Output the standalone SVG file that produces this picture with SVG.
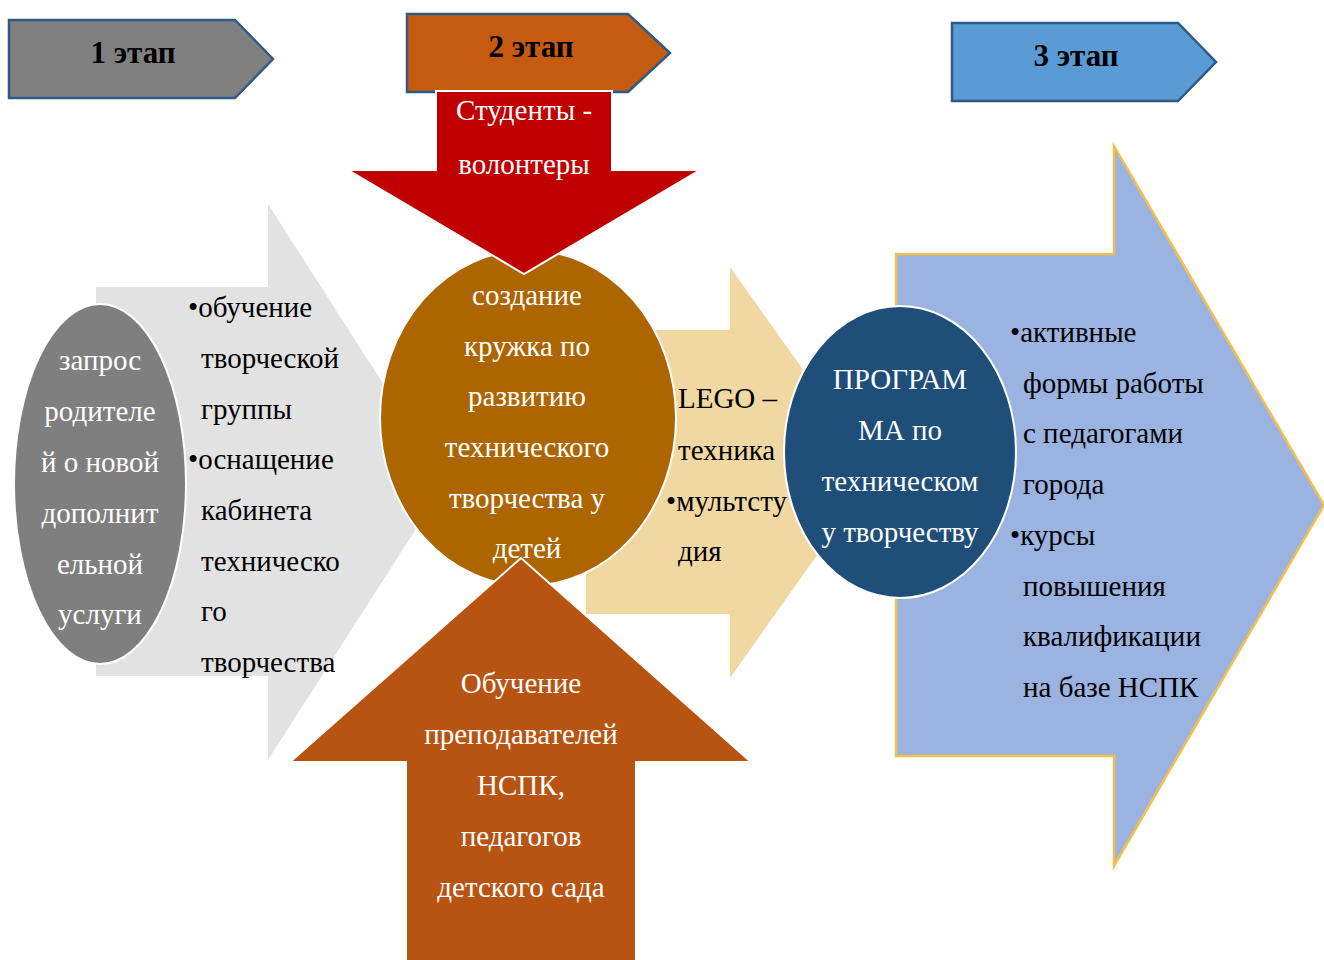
<svg xmlns="http://www.w3.org/2000/svg" width="1324" height="960" viewBox="0 0 1324 960">
<style>
text{font-family:"Liberation Serif","Times New Roman",serif;font-size:29px}
.w{fill:#fff}
.b{fill:#000}
.c{text-anchor:middle}
.hd{font-weight:bold;font-size:31px;text-anchor:middle;fill:#000}
.stage{stroke:#2E5A84;stroke-width:2.5}
</style>
<rect width="1324" height="960" fill="#fff"/>
<g id="stage1">
<polygon class="stage" points="9,20 235,20 273,59 235,98 9,98" fill="#808080"/>
<text class="hd" x="133" y="63">1 этап</text>
</g>
<g id="stage2">
<polygon class="stage" points="407,14 628,14 670,53 628,92 407,92" fill="#C55A11"/>
<text class="hd" x="531" y="57">2 этап</text>
</g>
<g id="stage3">
<polygon class="stage" points="952,23 1178,23 1216,62 1178,101 952,101" fill="#5B9BD5"/>
<text class="hd" x="1076" y="66">3 этап</text>
</g>
<g id="arrow-gray">
<polygon points="96,287 268,287 268,204 446,482 268,760 268,676 96,676" fill="#E2E2E2"/>
<text class="b" x="188" y="317">•обучение</text>
<text class="b" x="201" y="368">творческой</text>
<text class="b" x="201" y="419">группы</text>
<text class="b" x="188" y="469">•оснащение</text>
<text class="b" x="201" y="520">кабинета</text>
<text class="b" x="201" y="571">техническо</text>
<text class="b" x="201" y="621">го</text>
<text class="b" x="201" y="672">творчества</text>
</g>
<g id="request">
<ellipse cx="100" cy="484" rx="86" ry="180" fill="#7F7F7F" stroke="#fff" stroke-width="2"/>
<text class="w c" x="100" y="370">запрос</text>
<text class="w c" x="100" y="421">родителе</text>
<text class="w c" x="100" y="472">й о новой</text>
<text class="w c" x="100" y="523">дополнит</text>
<text class="w c" x="100" y="574">ельной</text>
<text class="w c" x="100" y="624">услуги</text>
</g>
<g id="arrow-tan">
<polygon points="586,330 730,330 730,267 876,472 730,678 730,614 586,614" fill="#F1D7A2"/>
<text class="b" x="678" y="408">LEGO –</text>
<text class="b" x="678" y="460">техника</text>
<text class="b" x="666" y="511">•мультсту</text>
<text class="b" x="678" y="561">дия</text>
</g>
<g id="arrow-blue">
<polygon points="896,254 1114,254 1114,146 1324,505 1114,866 1114,756 896,756" fill="#9BB3E0" stroke="#F5C04A" stroke-width="2.5"/>
<text class="b" x="1010" y="342">•активные</text>
<text class="b" x="1023" y="393">формы работы</text>
<text class="b" x="1023" y="443">с педагогами</text>
<text class="b" x="1023" y="494">города</text>
<text class="b" x="1010" y="545">•курсы</text>
<text class="b" x="1023" y="596">повышения</text>
<text class="b" x="1023" y="646">квалификации</text>
<text class="b" x="1023" y="697">на базе НСПК</text>
</g>
<g id="center">
<ellipse cx="528" cy="418" rx="148" ry="168" fill="#AD6500" stroke="#fff" stroke-width="2"/>
<text class="w c" x="527" y="305">создание</text>
<text class="w c" x="527" y="356">кружка по</text>
<text class="w c" x="527" y="406">развитию</text>
<text class="w c" x="527" y="457">технического</text>
<text class="w c" x="527" y="508">творчества у</text>
<text class="w c" x="527" y="558">детей</text>
</g>
<g id="program">
<ellipse cx="900" cy="452" rx="116" ry="146" fill="#1F4E79" stroke="#fff" stroke-width="2"/>
<text class="w c" x="900" y="389">ПРОГРАМ</text>
<text class="w c" x="900" y="440">МА по</text>
<text class="w c" x="900" y="491">техническом</text>
<text class="w c" x="900" y="542">у творчеству</text>
</g>
<g id="arrow-red">
<polygon points="436,91 612,91 612,170 700,170 524,274 348,170 436,170" fill="#C00000" stroke="#fff" stroke-width="2"/>
<text class="w c" x="524" y="120">Студенты -</text>
<text class="w c" x="524" y="174">волонтеры</text>
</g>
<g id="arrow-bottom">
<polygon points="406,962 406,762 290,762 521,558 751,762 636,762 636,962" fill="#B85412" stroke="#fff" stroke-width="2"/>
<text class="w c" x="521" y="693">Обучение</text>
<text class="w c" x="521" y="744">преподавателей</text>
<text class="w c" x="521" y="795">НСПК,</text>
<text class="w c" x="521" y="846">педагогов</text>
<text class="w c" x="521" y="897">детского сада</text>
</g>
<g id="connectors"></g>
</svg>
